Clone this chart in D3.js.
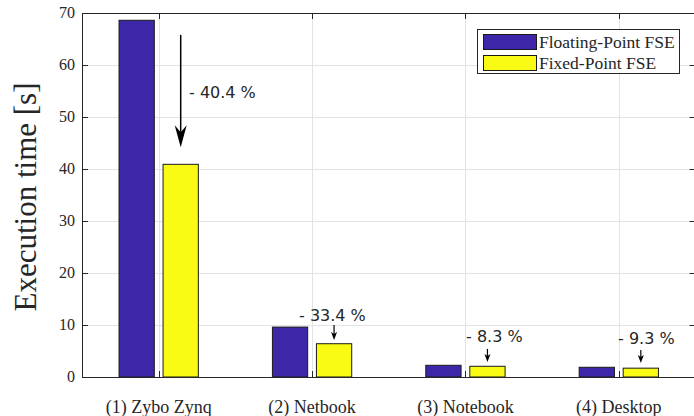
<!DOCTYPE html>
<html>
<head>
<meta charset="utf-8">
<script src="https://cdn.jsdelivr.net/npm/d3@7"></script>
<style>
  html, body { margin: 0; padding: 0; background: #fff; }
  svg { display: block; }
</style>
</head>
<body>
<svg id="chart" width="694" height="416"></svg>
<script>
// ---------------- data ----------------
const categories = ["(1) Zybo Zynq", "(2) Netbook", "(3) Notebook", "(4) Desktop"];
const floatingValues = [68.6, 9.6, 2.25, 1.87];
const fixedValues = [40.9, 6.4, 2.06, 1.70];
const seriesNames = ["Floating-Point FSE", "Fixed-Point FSE"];
const yTicks = [0, 10, 20, 30, 40, 50, 60, 70];
const reductionLabels = ["- 40.4 %", "- 33.4 %", "- 8.3 %", "- 9.3 %"];
// annotation arrows (data units): start value, end value
const arrowStart = [65.8, 10.0, 5.4, 5.2];
const arrowEnd = [44.2, 7.1, 2.9, 2.7];
// annotation text anchors (data units)
const labelX = [1.198, 1.915, 3.004, 3.995];
const labelY = [53.7, 10.77, 6.73, 6.35];

// ---------------- layout ----------------
const svg = d3.select("#chart");
const pLeft = 82, pRight = 695.5, pTop = 13, pBottom = 377;
const x = d3.scaleLinear().domain([0.5, 4.5]).range([pLeft, pRight]);
const y = d3.scaleLinear().domain([0, 70]).range([pBottom, pTop]);
const barOffset = 0.1435, barWidth = 0.23;
const colors = ["#3e26a8", "#f9fb15"];
const axisColor = "#262626";
const serif = "'Liberation Serif', 'Times New Roman', serif";
const sans = "'DejaVu Sans', sans-serif";

// grid
const grid = svg.append("g").attr("stroke", "#e3e3e3").attr("stroke-width", 1);
yTicks.forEach(t => {
  grid.append("line").attr("x1", pLeft).attr("x2", pRight)
    .attr("y1", Math.round(y(t)) + 0.5).attr("y2", Math.round(y(t)) + 0.5);
});
categories.forEach((c, i) => {
  const xx = Math.round(x(i + 1)) + 0.5;
  grid.append("line").attr("x1", xx).attr("x2", xx).attr("y1", pTop).attr("y2", pBottom);
});

// bars
const bars = svg.append("g");
[floatingValues, fixedValues].forEach((vals, s) => {
  const off = s === 0 ? -barOffset : barOffset;
  bars.selectAll(null).data(vals).enter().append("rect")
    .attr("x", (d, i) => x(i + 1 + off - barWidth / 2))
    .attr("width", (d, i) => x(i + 1 + off + barWidth / 2) - x(i + 1 + off - barWidth / 2))
    .attr("y", d => y(d))
    .attr("height", d => y(0) - y(d))
    .attr("fill", colors[s])
    .attr("stroke", "#1a1a1a")
    .attr("stroke-width", 1);
});

// axes box
const ax = svg.append("g").attr("stroke", axisColor).attr("stroke-width", 1).attr("fill", "none");
ax.append("rect").attr("x", pLeft + 0.5).attr("y", pTop + 0.5)
  .attr("width", pRight - pLeft).attr("height", pBottom - pTop);
// ticks (inward)
const tl = 6;
yTicks.forEach(t => {
  const yy = Math.round(y(t)) + 0.5;
  ax.append("line").attr("x1", pLeft).attr("x2", pLeft + tl).attr("y1", yy).attr("y2", yy);
  ax.append("line").attr("x1", pRight - tl).attr("x2", pRight).attr("y1", yy).attr("y2", yy);
});
categories.forEach((c, i) => {
  const xx = Math.round(x(i + 1)) + 0.5;
  ax.append("line").attr("x1", xx).attr("x2", xx).attr("y1", pBottom).attr("y2", pBottom - tl);
  ax.append("line").attr("x1", xx).attr("x2", xx).attr("y1", pTop).attr("y2", pTop + tl);
});

// tick labels
svg.append("g").selectAll("text").data(yTicks).enter().append("text")
  .attr("x", pLeft - 7).attr("y", d => y(d)).attr("dy", "0.34em")
  .attr("text-anchor", "end").attr("font-family", serif).attr("font-size", 16)
  .attr("fill", axisColor).text(d => d);
svg.append("g").selectAll("text").data(categories).enter().append("text")
  .attr("x", (d, i) => x(i + 1)).attr("y", 413)
  .attr("text-anchor", "middle").attr("font-family", serif).attr("font-size", 18)
  .attr("fill", axisColor).text(d => d);

// y label
svg.append("text")
  .attr("transform", "translate(36,197) rotate(-90)")
  .attr("text-anchor", "middle").attr("font-family", serif).attr("font-size", 31)
  .attr("fill", axisColor).text("Execution time [s]");

// annotations
function arrowHead(g, xx, yy, len, half, back) {
  g.append("path")
    .attr("d", `M${xx},${yy} L${xx - half},${yy - len} L${xx},${yy - len + back} L${xx + half},${yy - len} Z`)
    .attr("fill", "#000");
}
const ann = svg.append("g");
reductionLabels.forEach((lab, i) => {
  const xa = x(i + 1 + barOffset);
  const big = i === 0;
  const y0 = y(arrowStart[i]), y1 = y(arrowEnd[i]);
  const len = big ? 22 : 8, half = big ? 6 : 3, back = big ? 7 : 2;
  ann.append("line").attr("x1", xa).attr("x2", xa).attr("y1", y0).attr("y2", y1 - len + back)
    .attr("stroke", "#000").attr("stroke-width", big ? 1.5 : 1.2);
  arrowHead(ann, xa, y1, len, half, back);
  ann.append("text").attr("x", x(labelX[i])).attr("y", y(labelY[i]))
    .attr("font-family", sans).attr("font-size", 16).attr("fill", "#262626").text(lab);
});

// legend
const lg = svg.append("g");
lg.append("rect").attr("x", 477.5).attr("y", 29.5).attr("width", 202).attr("height", 44)
  .attr("fill", "#fff").attr("stroke", axisColor).attr("stroke-width", 1);
seriesNames.forEach((n, i) => {
  const yy = 34 + i * 21;
  lg.append("rect").attr("x", 483.5).attr("y", yy + 0.5).attr("width", 53).attr("height", 15)
    .attr("fill", colors[i]).attr("stroke", "#1a1a1a").attr("stroke-width", 1);
  lg.append("text").attr("x", 539).attr("y", yy + 8).attr("dy", "0.34em")
    .attr("font-family", serif).attr("font-size", 17.5).attr("fill", axisColor).text(n);
});
</script>
</body>
</html>
